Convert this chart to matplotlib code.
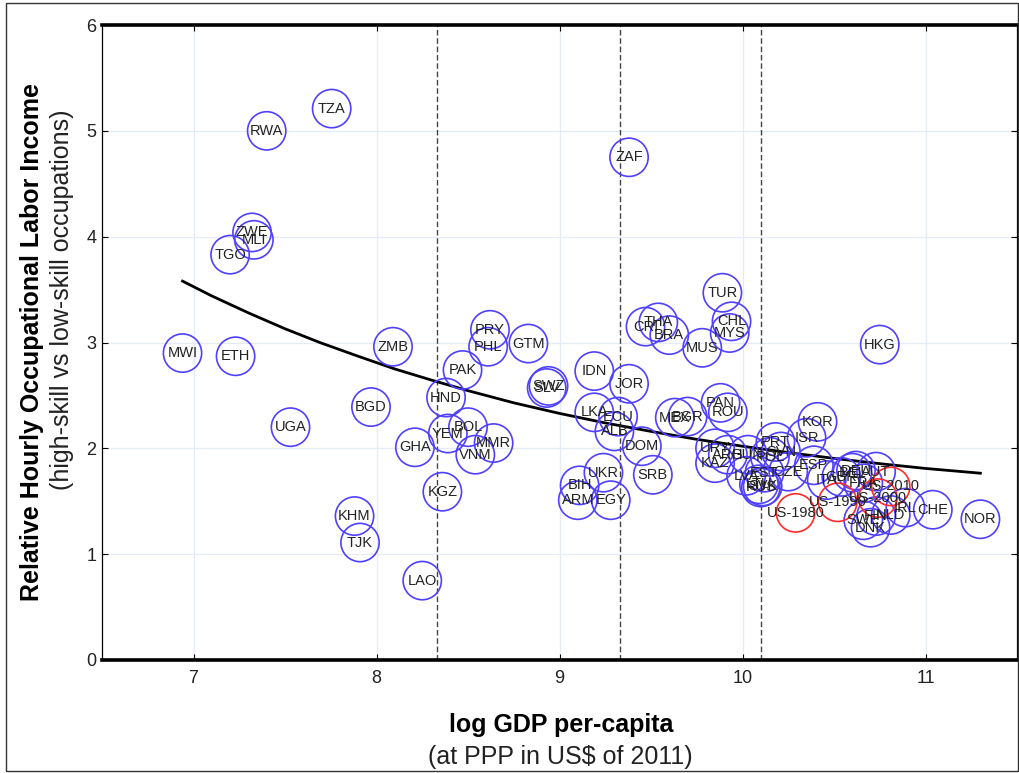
import matplotlib
matplotlib.use("Agg")
import matplotlib.pyplot as plt
from matplotlib.patches import Rectangle

plt.rcParams['font.family'] = ['Liberation Sans', 'DejaVu Sans']

# country codes, log GDP per capita, relative income
countries = ["TZA", "RWA", "ZAF", "ZWE", "MLI", "TGO", "MWI", "ETH", "UGA", "ZMB",
             "BGD", "KHM", "TJK", "LAO", "GHA", "KGZ", "HND", "PAK", "YEM", "BOL",
             "VNM", "MMR", "PRY", "PHL", "GTM", "SLV", "SWZ", "IDN", "JOR", "LKA",
             "ECU", "ALB", "DOM", "SRB", "UKR", "BIH", "ARM", "EGY", "CRI", "THA",
             "BRA", "MUS", "TUR", "CHL", "MYS", "HKG", "MEX", "BGR", "PAN", "ROU",
             "KOR", "ISR", "PRT", "SVN", "URY", "KAZ", "ARG", "HUN", "POL", "LVA",
             "EST", "CZE", "LTU", "SVK", "RUS", "ESP", "ITA", "GBR", "DEU", "BEL",
             "AUT", "FRA", "SWE", "DNK", "FIN", "NLD", "IRL", "CHE", "NOR"]
gdp = [7.755, 7.40, 9.38, 7.32, 7.33, 7.20, 6.94, 7.23, 7.53, 8.09,
       7.97, 7.88, 7.91, 8.25, 8.21, 8.36, 8.38, 8.47, 8.39, 8.50,
       8.54, 8.64, 8.62, 8.61, 8.83, 8.93, 8.94, 9.19, 9.38, 9.19,
       9.32, 9.30, 9.45, 9.51, 9.24, 9.11, 9.10, 9.28, 9.47, 9.54,
       9.60, 9.78, 9.89, 9.94, 9.93, 10.75, 9.63, 9.70, 9.88, 9.92,
       10.41, 10.35, 10.18, 10.21, 9.85, 9.85, 9.92, 10.03, 10.15, 10.02,
       10.12, 10.25, 10.09, 10.11, 10.10, 10.39, 10.46, 10.54, 10.62, 10.60,
       10.73, 10.66, 10.66, 10.70, 10.73, 10.81, 10.89, 11.04, 11.30]
income = [5.21, 5.00, 4.75, 4.04, 3.97, 3.83, 2.90, 2.87, 2.20, 2.96,
          2.39, 1.36, 1.11, 0.75, 2.01, 1.59, 2.48, 2.74, 2.14, 2.20,
          1.94, 2.05, 3.12, 2.96, 2.99, 2.57, 2.59, 2.73, 2.61, 2.34,
          2.30, 2.16, 2.02, 1.75, 1.77, 1.65, 1.51, 1.51, 3.15, 3.19,
          3.07, 2.95, 3.47, 3.20, 3.09, 2.98, 2.29, 2.30, 2.43, 2.34,
          2.25, 2.10, 2.06, 1.97, 2.00, 1.86, 1.94, 1.94, 1.92, 1.74,
          1.77, 1.78, 1.66, 1.64, 1.63, 1.84, 1.70, 1.73, 1.79, 1.77,
          1.78, 1.67, 1.32, 1.25, 1.36, 1.37, 1.44, 1.42, 1.33]

# United States over time
us_labels = ["US-1980", "US-1990", "US-2000", "US-2010"]
us_gdp = [10.29, 10.52, 10.74, 10.81]
us_income = [1.39, 1.49, 1.53, 1.64]

# fitted curve
fit_x = [6.94, 7.10, 7.30, 7.50, 7.69, 7.90, 8.10, 8.30, 8.50, 8.75,
         9.00, 9.25, 9.50, 9.75, 10.00, 10.25, 10.50, 10.75, 11.00, 11.30]
fit_y = [3.58, 3.44, 3.28, 3.13, 3.00, 2.87, 2.75, 2.645, 2.545, 2.43,
         2.33, 2.24, 2.16, 2.085, 2.02, 1.96, 1.905, 1.855, 1.81, 1.765]

# income group cut-offs
cutoffs = [8.33, 9.33, 10.10]

W, H = 1019, 773
fig = plt.figure(figsize=(W / 100, H / 100), dpi=100)
ax = fig.add_axes([102 / W, 1 - 660 / H, (1017 - 102) / W, (660 - 25) / H])

ax.grid(True, color='#e6ecf7', linewidth=0.9, zorder=0)
ax.set_axisbelow(True)

for c in cutoffs:
    ax.axvline(c, color='#444444', linestyle=(0, (4, 2)), linewidth=1.0, zorder=1)

ax.plot(fit_x, fit_y, color='black', linewidth=2.0, zorder=2)

ax.scatter(gdp, income, s=760, facecolors='none', edgecolors='#5040ff',
           linewidths=1.2, zorder=3)
ax.scatter(us_gdp, us_income, s=760, facecolors='none', edgecolors='#ff2a2a',
           linewidths=1.2, zorder=3)

for lab, xv, yv in zip(countries + us_labels, gdp + us_gdp, income + us_income):
    ax.text(xv, yv, lab, ha='center', va='center', fontsize=10.5,
            color='#222222', zorder=4)

ax.set_xlim(6.5, 11.5)
ax.set_ylim(0, 6)
ax.set_xticks([7, 8, 9, 10, 11])
ax.set_yticks([0, 1, 2, 3, 4, 5, 6])

ax.tick_params(direction='in', top=True, right=True, length=4, width=0.8,
               labelsize=13, labelcolor='#222222')
ax.tick_params(axis='x', pad=7)
ax.tick_params(axis='y', pad=4)

for side in ['top', 'bottom']:
    ax.spines[side].set_linewidth(2.6)
for side in ['left', 'right']:
    ax.spines[side].set_linewidth(0.9)

fig.text(561 / W, 1 - 725 / H, "log GDP per-capita", ha='center', va='center',
         fontsize=18, fontweight='bold', color='black')
fig.text(560 / W, 1 - 757 / H, "(at PPP in US$ of 2011)", ha='center', va='center',
         fontsize=18, color='#222222')
fig.text(32 / W, 1 - 342 / H, "Relative Hourly Occupational Labor Income",
         rotation=90, ha='center', va='center', fontsize=18, fontweight='bold',
         color='black')
fig.text(62 / W, 1 - 300 / H, "(high-skill vs low-skill occupations)",
         rotation=90, ha='center', va='center', fontsize=18, color='#222222')

fig.patches.append(Rectangle((6 / W, 2 / H), 1012 / W, 768 / H, fill=False,
                             edgecolor='#333333', linewidth=1.0,
                             transform=fig.transFigure, figure=fig))

fig.savefig("out.png", dpi=100)
